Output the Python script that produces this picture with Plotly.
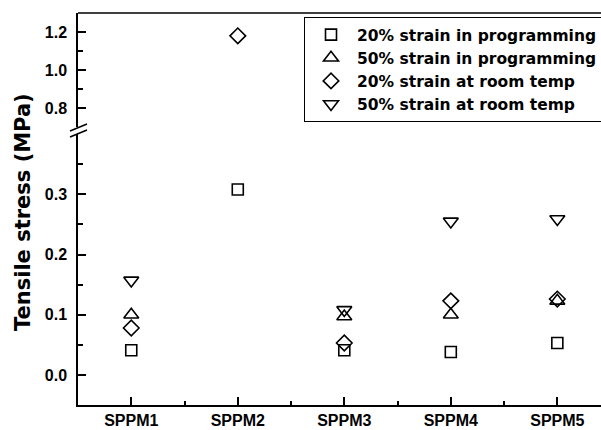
import plotly.graph_objects as go

categories = ["SPPM1", "SPPM2", "SPPM3", "SPPM4", "SPPM5"]
series_names = [
    "20% strain in programming",
    "50% strain in programming",
    "20% strain at room temp",
    "50% strain at room temp",
]
strain20_prog = [0.041, 0.308, 0.041, 0.038, 0.053]
strain50_prog = [0.100, None, 0.097, 0.100, 0.123]
strain20_room = [0.078, 1.18, 0.053, 0.123, 0.126]
strain50_room = [0.157, None, 0.108, 0.255, 0.259]
series_values = [strain20_prog, strain50_prog, strain20_room, strain50_room]
symbols = ["square-open", "triangle-up-open", "diamond-open", "triangle-down-open"]
sizes = [11, 13, 12, 13]

lower_ticks = [0.0, 0.1, 0.2, 0.3]
upper_ticks = [0.8, 1.0, 1.2]
BREAK = 0.5

x_idx = list(range(len(categories)))

fig = go.Figure()
for i, (name, vals) in enumerate(zip(series_names, series_values)):
    low = [v if (v is not None and v < BREAK) else None for v in vals]
    high = [v if (v is not None and v >= BREAK) else None for v in vals]
    mk = dict(symbol=symbols[i], size=sizes[i], color="black",
              line=dict(color="black", width=1.6))
    fig.add_trace(go.Scatter(x=x_idx, y=low, mode="markers", name=name,
                             marker=mk, legendgroup=name, yaxis="y"))
    fig.add_trace(go.Scatter(x=x_idx, y=high, mode="markers", name=name,
                             marker=mk, legendgroup=name, yaxis="y2",
                             showlegend=False))

tickfont_b = dict(family="Liberation Sans, Arial, sans-serif", size=16, color="black", weight="bold")

fig.update_layout(
    width=601, height=430,
    margin=dict(l=78, r=0, t=13, b=25, autoexpand=False),
    paper_bgcolor="white", plot_bgcolor="white",
    font=dict(family="Liberation Sans, Arial, sans-serif", color="black"),
    xaxis=dict(
        range=[-0.5, 4.41], tickvals=x_idx, ticktext=categories,
        ticks="inside", ticklen=8, tickwidth=1.5, tickcolor="black",
        showline=True, linecolor="black", linewidth=1.5,
        showgrid=False, zeroline=False,
        tickfont=dict(family="Liberation Sans, Arial, sans-serif", size=16,
                      color="black", weight="bold"),
        minor=dict(ticks="inside", ticklen=4, tickwidth=1.5, tickcolor="black",
                   tick0=0.5, dtick=1, showgrid=False),
        anchor="y",
    ),
    yaxis=dict(
        domain=[0, 0.691], range=[-0.05, 0.4],
        tickvals=lower_ticks, ticktext=["0.0", "0.1", "0.2", "0.3"],
        ticks="inside", ticklen=8, tickwidth=1.5, tickcolor="black",
        showline=True, linecolor="black", linewidth=1.5,
        showgrid=False, zeroline=False, tickfont=tickfont_b,
        minor=dict(ticks="inside", ticklen=5, tickwidth=1.5, tickcolor="black",
                   tickvals=[0.05, 0.15, 0.25, 0.35], showgrid=False),
        ticklabelstandoff=6,
        anchor="x",
    ),
    yaxis2=dict(
        domain=[0.709, 1], range=[0.7, 1.3],
        tickvals=upper_ticks, ticktext=["0.8", "1.0", "1.2"],
        ticks="inside", ticklen=8, tickwidth=1.5, tickcolor="black",
        showline=True, linecolor="black", linewidth=1.5,
        showgrid=False, zeroline=False, tickfont=tickfont_b,
        minor=dict(ticks="inside", ticklen=5, tickwidth=1.5, tickcolor="black",
                   tickvals=[0.9, 1.1], showgrid=False),
        ticklabelstandoff=6,
        anchor="x",
    ),
    legend=dict(
        x=(304 - 78) / 523, y=(405 - 17) / 392, xanchor="left", yanchor="top",
        bgcolor="white", bordercolor="black", borderwidth=1,
        font=dict(family="DejaVu Sans, sans-serif", size=15.5, color="black", weight="bold"),
        tracegroupgap=0, itemwidth=42,
    ),
    showlegend=True,
    annotations=[dict(
        text="<b>Tensile stress (MPa)</b>", textangle=-90,
        xref="paper", yref="paper", x=0, y=(405 - 212) / 392,
        xanchor="center", yanchor="middle", xshift=-55, showarrow=False,
        font=dict(family="DejaVu Sans, sans-serif", size=21, color="black"),
    )],
    shapes=[
        dict(type="line", xref="paper", yref="paper", x0=0, x1=1, y0=1, y1=1,
             line=dict(color="black", width=1.5)),
        dict(type="line", xref="paper", yref="paper",
             x0=(70 - 78) / 523, x1=(87 - 78) / 523,
             y0=(405 - 131) / 392, y1=(405 - 124) / 392,
             line=dict(color="black", width=1.5)),
        dict(type="line", xref="paper", yref="paper",
             x0=(70 - 78) / 523, x1=(87 - 78) / 523,
             y0=(405 - 137) / 392, y1=(405 - 130) / 392,
             line=dict(color="black", width=1.5)),
    ],
)

fig.write_html("out.html")
